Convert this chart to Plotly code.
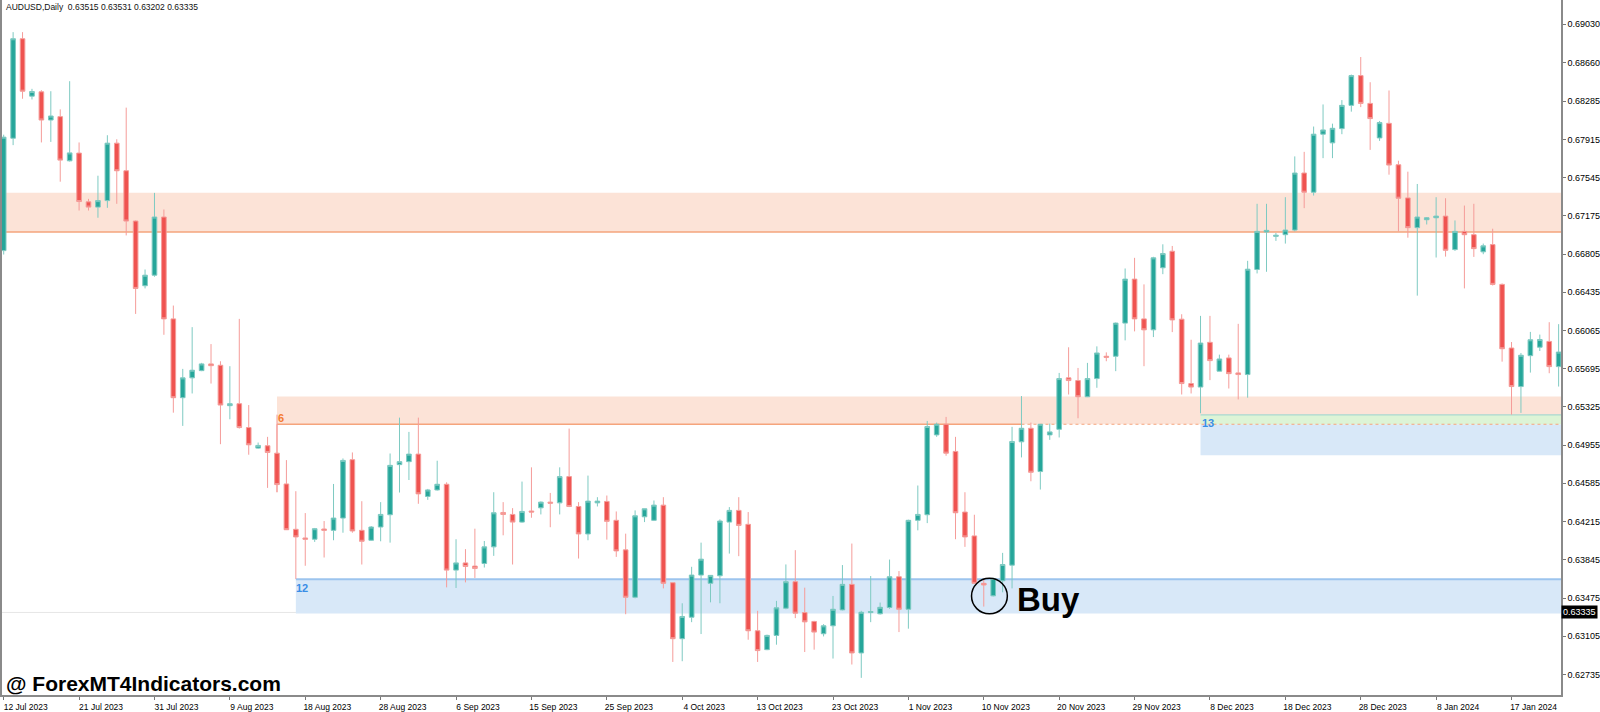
import plotly.graph_objects as go

# AUDUSD daily candles, 12 Jul 2023 .. 22 Jan 2024 (MT4 feed, with Sunday bars)
opens = [
    0.66838, 0.67926, 0.68889, 0.68333, 0.68375, 0.68102, 0.68135, 0.67707, 0.67782, 0.67310,
    0.67259, 0.67322, 0.67878, 0.67611, 0.67124, 0.66498, 0.66600, 0.67163, 0.66177, 0.65414,
    0.65606, 0.65676, 0.65741, 0.65728, 0.65337, 0.65356, 0.65125, 0.64926, 0.64949, 0.64877,
    0.64579, 0.64140, 0.64056, 0.64044, 0.64143, 0.64130, 0.64249, 0.64814, 0.64130, 0.64034,
    0.64162, 0.64281, 0.64766, 0.64795, 0.64868, 0.64458, 0.64521, 0.64576, 0.63745, 0.63815,
    0.63784, 0.63809, 0.63970, 0.64303, 0.64284, 0.64210, 0.64317, 0.64348, 0.64403, 0.64396,
    0.64650, 0.64361, 0.64095, 0.64396, 0.64410, 0.64227, 0.63941, 0.63482, 0.64261, 0.64227,
    0.64374, 0.63623, 0.63081, 0.63289, 0.63697, 0.63617, 0.63690, 0.64210, 0.64323, 0.64188,
    0.63158, 0.62975, 0.63113, 0.63376, 0.63633, 0.63334, 0.63248, 0.63129, 0.63206, 0.63360,
    0.63607, 0.62943, 0.63334, 0.63322, 0.63383, 0.63681, 0.63366, 0.64227, 0.64281, 0.65054,
    0.65157, 0.64894, 0.64307, 0.64076, 0.63617, 0.63496, 0.63642, 0.63793, 0.64987, 0.65118,
    0.64699, 0.65054, 0.65108, 0.65606, 0.65580, 0.65423, 0.65599, 0.65815, 0.65815, 0.66136,
    0.66562, 0.66177, 0.66071, 0.66672, 0.66832, 0.66174, 0.65551, 0.65517, 0.65950, 0.65671,
    0.65799, 0.65654, 0.65638, 0.66655, 0.67018, 0.66976, 0.66992, 0.67037, 0.67589, 0.67403,
    0.67965, 0.67881, 0.68019, 0.68244, 0.68532, 0.68263, 0.67929, 0.68070, 0.67669, 0.67348,
    0.67060, 0.67137, 0.67156, 0.67172, 0.66848, 0.67024, 0.66992, 0.66826, 0.66896, 0.66511,
    0.65895, 0.65522, 0.65821, 0.65903, 0.65959, 0.65715,
]
highs = [
    0.67960, 0.68953, 0.68953, 0.68404, 0.68391, 0.68381, 0.68205, 0.68478, 0.67885, 0.67339,
    0.67563, 0.67955, 0.67916, 0.68222, 0.67130, 0.66655, 0.67397, 0.67236, 0.66306, 0.65693,
    0.66097, 0.65751, 0.65933, 0.65767, 0.65719, 0.66177, 0.65343, 0.64980, 0.65035, 0.65250,
    0.64810, 0.64509, 0.64297, 0.64153, 0.64220, 0.64579, 0.64826, 0.64884, 0.64412, 0.64172,
    0.64403, 0.64874, 0.65221, 0.65083, 0.65221, 0.64531, 0.64804, 0.64595, 0.64044, 0.63948,
    0.64146, 0.64027, 0.64499, 0.64403, 0.64345, 0.64602, 0.64740, 0.64410, 0.64492, 0.64740,
    0.65115, 0.64403, 0.64660, 0.64451, 0.64467, 0.64313, 0.64098, 0.64323, 0.64339, 0.64419,
    0.64451, 0.63623, 0.63424, 0.63777, 0.64011, 0.63697, 0.64236, 0.64355, 0.64451, 0.64307,
    0.63351, 0.63120, 0.63447, 0.63800, 0.63938, 0.63575, 0.63254, 0.63222, 0.63495, 0.63794,
    0.64002, 0.63351, 0.63688, 0.63431, 0.63847, 0.63736, 0.64233, 0.64564, 0.65189, 0.65173,
    0.65228, 0.65035, 0.64499, 0.64281, 0.63664, 0.63670, 0.63912, 0.65132, 0.65430, 0.65173,
    0.65157, 0.65163, 0.65654, 0.65902, 0.65702, 0.65751, 0.65911, 0.65853, 0.66142, 0.66665,
    0.66768, 0.66511, 0.66778, 0.66899, 0.66883, 0.66222, 0.65975, 0.66206, 0.66206, 0.65831,
    0.65831, 0.66129, 0.66739, 0.67291, 0.67291, 0.67009, 0.67355, 0.67750, 0.67794, 0.68039,
    0.68253, 0.68067, 0.68295, 0.68542, 0.68712, 0.68468, 0.68093, 0.68388, 0.67708, 0.67602,
    0.67483, 0.67163, 0.67355, 0.67345, 0.67130, 0.67274, 0.67291, 0.66906, 0.67050, 0.66520,
    0.65953, 0.65847, 0.66051, 0.66025, 0.66145, 0.66126,
]
lows = [
    0.66800, 0.67859, 0.68308, 0.68301, 0.67885, 0.67890, 0.67505, 0.67700, 0.67226, 0.67226,
    0.67156, 0.67252, 0.67291, 0.66985, 0.66225, 0.66472, 0.66585, 0.66023, 0.65269, 0.65141,
    0.65455, 0.65671, 0.65551, 0.64964, 0.65205, 0.65115, 0.64862, 0.64920, 0.64541, 0.64499,
    0.64133, 0.63659, 0.63787, 0.64018, 0.63867, 0.64034, 0.64107, 0.64107, 0.63799, 0.64030,
    0.64024, 0.64011, 0.64496, 0.64617, 0.64387, 0.64425, 0.64515, 0.63578, 0.63572, 0.63626,
    0.63669, 0.63770, 0.63883, 0.64082, 0.63799, 0.64204, 0.64252, 0.64284, 0.64160, 0.64284,
    0.64355, 0.63857, 0.64034, 0.64361, 0.64040, 0.63873, 0.63318, 0.63472, 0.64210, 0.64220,
    0.63568, 0.62856, 0.62863, 0.63241, 0.63126, 0.63433, 0.63424, 0.63905, 0.63880, 0.63071,
    0.62856, 0.62970, 0.63023, 0.63366, 0.63280, 0.62952, 0.62975, 0.63103, 0.62889, 0.63355,
    0.62831, 0.62702, 0.63241, 0.63315, 0.63370, 0.63145, 0.63178, 0.64130, 0.64200, 0.65035,
    0.64852, 0.64044, 0.63970, 0.63617, 0.63392, 0.63490, 0.63530, 0.63568, 0.64836, 0.64605,
    0.64525, 0.65006, 0.65029, 0.65445, 0.65215, 0.65420, 0.65510, 0.65767, 0.65671, 0.65969,
    0.66056, 0.65719, 0.66001, 0.66610, 0.66049, 0.65445, 0.65455, 0.65263, 0.65584, 0.65671,
    0.65503, 0.65397, 0.65414, 0.66617, 0.66633, 0.66932, 0.66906, 0.67024, 0.67249, 0.67371,
    0.67733, 0.67733, 0.67965, 0.68183, 0.68227, 0.67813, 0.67900, 0.67573, 0.67024, 0.66963,
    0.66402, 0.67091, 0.66771, 0.66780, 0.66835, 0.66472, 0.66777, 0.66803, 0.66500, 0.65763,
    0.65250, 0.65267, 0.65657, 0.65866, 0.65651, 0.65522,
]
closes = [
    0.67936, 0.68889, 0.68381, 0.68378, 0.68102, 0.68141, 0.67714, 0.67784, 0.67313, 0.67259,
    0.67322, 0.67878, 0.67611, 0.67124, 0.66472, 0.66600, 0.67163, 0.66177, 0.65414, 0.65606,
    0.65680, 0.65741, 0.65724, 0.65343, 0.65356, 0.65125, 0.64958, 0.64952, 0.64884, 0.64573,
    0.64136, 0.64066, 0.64044, 0.64146, 0.64130, 0.64249, 0.64807, 0.64124, 0.64024, 0.64162,
    0.64284, 0.64759, 0.64795, 0.64868, 0.64483, 0.64521, 0.64576, 0.63745, 0.63815, 0.63780,
    0.63761, 0.63970, 0.64300, 0.64284, 0.64210, 0.64313, 0.64307, 0.64403, 0.64393, 0.64650,
    0.64361, 0.64095, 0.64413, 0.64413, 0.64217, 0.63931, 0.63482, 0.64271, 0.64339, 0.64374,
    0.63617, 0.63081, 0.63296, 0.63697, 0.63851, 0.63694, 0.64220, 0.64323, 0.64178, 0.63158,
    0.62966, 0.63113, 0.63380, 0.63633, 0.63328, 0.63244, 0.63145, 0.63206, 0.63366, 0.63607,
    0.62943, 0.63337, 0.63344, 0.63385, 0.63681, 0.63366, 0.64227, 0.64284, 0.65135, 0.65157,
    0.64877, 0.64300, 0.64066, 0.63617, 0.63601, 0.63664, 0.63799, 0.64990, 0.65118, 0.64692,
    0.65157, 0.65083, 0.65599, 0.65580, 0.65423, 0.65599, 0.65847, 0.65805, 0.66136, 0.66562,
    0.66177, 0.66071, 0.66768, 0.66809, 0.66167, 0.65551, 0.65517, 0.65943, 0.65773, 0.65789,
    0.65647, 0.65638, 0.66658, 0.67024, 0.67034, 0.66986, 0.67037, 0.67589, 0.67403, 0.67965,
    0.68006, 0.68022, 0.68244, 0.68532, 0.68263, 0.68116, 0.68077, 0.67666, 0.67345, 0.67060,
    0.67163, 0.67156, 0.67172, 0.66841, 0.67024, 0.66992, 0.66857, 0.66884, 0.66511, 0.65888,
    0.65522, 0.65825, 0.65975, 0.65977, 0.65715, 0.65856,
]

date_labels = [
    "12 Jul 2023", "21 Jul 2023", "31 Jul 2023", "9 Aug 2023", "18 Aug 2023",
    "28 Aug 2023", "6 Sep 2023", "15 Sep 2023", "25 Sep 2023", "4 Oct 2023",
    "13 Oct 2023", "23 Oct 2023", "1 Nov 2023", "10 Nov 2023", "20 Nov 2023",
    "29 Nov 2023", "8 Dec 2023", "18 Dec 2023", "28 Dec 2023", "8 Jan 2024",
    "17 Jan 2024",
]
price_ticks = [0.69030, 0.68660, 0.68285, 0.67915, 0.67545, 0.67175, 0.66805, 0.66435,
               0.66065, 0.65695, 0.65325, 0.64955, 0.64585, 0.64215, 0.63845, 0.63475,
               0.63105, 0.62735]
price_tick_text = ["0.69030", "0.68660", "0.68285", "0.67915", "0.67545", "0.67175",
                   "0.66805", "0.66435", "0.66065", "0.65695", "0.65325", "0.64955",
                   "0.64585", "0.64215", "0.63845", "0.63475", "0.63105", "0.62735"]

# zones drawn by the indicator: (start bar, low, high)
upper_zone = (0, 0.67018, 0.67397)
zone_6 = (29, 0.65157, 0.65426)
zone_12 = (31, 0.63325, 0.63657)
zone_13 = (127, 0.64858, 0.65247)
last_price = 0.63335
header = "AUDUSD,Daily  0.63515 0.63531 0.63202 0.63335"

FONT = "Liberation Sans, Arial, sans-serif"
PEACH = "#FCE3D7"
ORANGE_LINE = "#F5A47C"
BLUE_FILL = "#D8E8F8"
BLUE_LINE = "#9CC4EE"
GREEN_FILL = "#DDF4D6"

bars = list(range(len(opens)))
END = len(opens) + 5

fig = go.Figure()
fig.add_trace(go.Candlestick(
    x=bars, open=opens, high=highs, low=lows, close=closes,
    increasing=dict(fillcolor="#26A69A", line=dict(color="#7ECAC2", width=1)),
    decreasing=dict(fillcolor="#EF5350", line=dict(color="#F59C99", width=1)),
    whiskerwidth=0, hoverinfo="skip", showlegend=False,
))


def rect(x0, y0, y1, color):
    fig.add_shape(type="rect", xref="x", yref="y", x0=x0, x1=END, y0=y0, y1=y1,
                  fillcolor=color, line_width=0, layer="below")


def hline(x0, x1, y, color, width=1, dash="solid"):
    fig.add_shape(type="line", xref="x", yref="y", x0=x0, x1=x1, y0=y, y1=y,
                  line=dict(color=color, width=width, dash=dash), layer="below")


# faint bid line
hline(-1, END, last_price, "#E6E6E6")

rect(upper_zone[0] - 1, upper_zone[1], upper_zone[2], PEACH)
hline(-1, END, upper_zone[1], ORANGE_LINE, 1.5)

rect(zone_6[0], zone_6[1], zone_6[2], PEACH)
rect(zone_13[0], zone_13[1], zone_6[1], BLUE_FILL)
rect(zone_13[0], zone_6[1], zone_13[2], GREEN_FILL)
hline(zone_13[0], END, zone_13[2], "#A9D9D0", 1.2)
hline(zone_6[0], 108, zone_6[1], ORANGE_LINE, 1.5)
hline(108, END, zone_6[1], ORANGE_LINE, 1.2, "dot")
fig.add_shape(type="line", xref="x", yref="y", x0=zone_6[0], x1=zone_6[0],
              y0=lows[zone_6[0]], y1=zone_6[1], line=dict(color="#F59C99", width=1),
              layer="below")

rect(zone_12[0], zone_12[1], zone_12[2], BLUE_FILL)
hline(zone_12[0], END, zone_12[2], BLUE_LINE, 2)

# Buy marker
fig.add_shape(type="circle", xref="x", yref="y", x0=102.7, x1=106.5,
              y0=0.63322, y1=0.63665, line=dict(color="black", width=1.5))
fig.add_annotation(x=107.3, y=0.63462, xref="x", yref="y", text="<b>Buy</b>",
                   showarrow=False, xanchor="left", yanchor="middle",
                   font=dict(family=FONT, size=33, color="black"))

# zone labels
fig.add_annotation(x=zone_6[0] + 0.4, y=0.65221, text="<b>6</b>", showarrow=False,
                   font=dict(family=FONT, size=11, color="#F47B2F"))
fig.add_annotation(x=zone_12[0] + 0.7, y=0.63575, text="<b>12</b>", showarrow=False,
                   font=dict(family=FONT, size=11, color="#3A8EE6"))
fig.add_annotation(x=zone_13[0] + 0.8, y=0.65165, text="<b>13</b>", showarrow=False,
                   font=dict(family=FONT, size=11, color="#3A8EE6"))

# header and watermark
fig.add_annotation(x=0.001, y=1.0, xref="paper", yref="paper", text=header,
                   showarrow=False, xanchor="left", yanchor="top",
                   font=dict(family=FONT, size=8.5, color="#111111"))
fig.add_annotation(x=0.001, y=0.017, xref="paper", yref="paper",
                   text="<b>@ ForexMT4Indicators.com</b>", showarrow=False,
                   xanchor="left", yanchor="middle",
                   font=dict(family=FONT, size=21, color="black"))

# current price box on the axis
fig.add_annotation(x=1.0, y=last_price, xref="paper", yref="y", text="0.63335",
                   showarrow=False, xanchor="left", yanchor="middle",
                   bgcolor="black", borderpad=1,
                   font=dict(family=FONT, size=9, color="white"))

fig.update_layout(
    width=1600, height=712,
    margin=dict(l=0, r=35, t=0, b=13),
    paper_bgcolor="white", plot_bgcolor="white",
    font=dict(family=FONT, size=9, color="black"),
    xaxis=dict(
        range=[-0.18, 165.25], rangeslider=dict(visible=False),
        tickvals=bars[::8], ticktext=date_labels, ticks="outside", ticklen=3,
        tickcolor="#777777", showgrid=False, zeroline=False, showline=True,
        linecolor="#8A8A8A", linewidth=1.5, ticklabelshift=22, ticklabelstandoff=0,
        tickfont=dict(size=8.5),
    ),
    yaxis=dict(
        range=[0.62536, 0.69264], side="right", tickvals=price_ticks,
        ticktext=price_tick_text, ticks="outside", ticklen=3, tickcolor="#777777",
        showgrid=False, zeroline=False, showline=True, mirror=True,
        linecolor="#8A8A8A", linewidth=1.5, tickfont=dict(size=9),
    ),
)

fig.write_html(
    "out.html",
    config={"displayModeBar": False},
    post_script="document.body.style.margin='0';document.body.style.overflow='hidden';",
)
